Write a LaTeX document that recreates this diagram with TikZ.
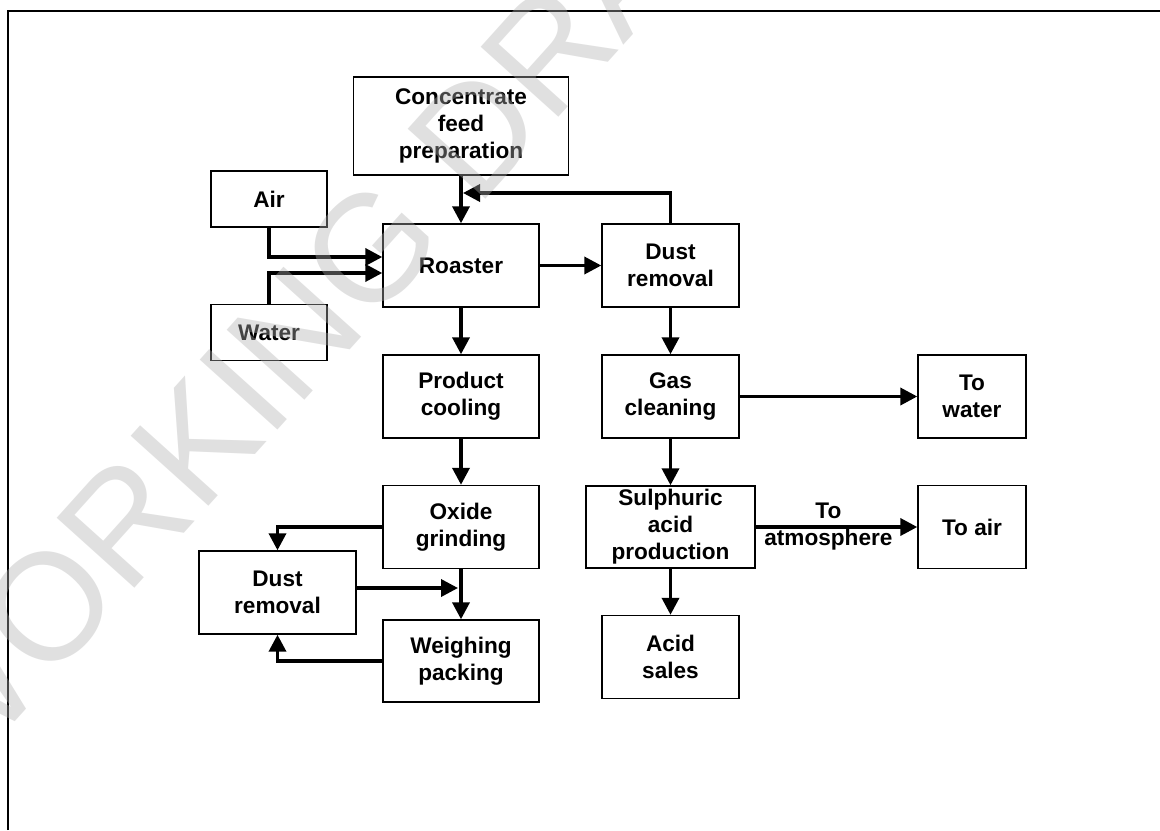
\documentclass[tikz,border=0pt]{standalone}
\usepackage{fontspec}
\setmainfont{Liberation Sans}
\usepackage{tikz}
\usetikzlibrary{arrows.meta, positioning, calc}
\definecolor{stamp}{gray}{0.69}

\begin{document}
\begin{tikzpicture}[x=0.5pt, y=-0.5pt,
  box/.style={draw, line width=0.7pt, align=center, inner sep=0pt,
    font=\fontsize{11.3}{13.5}\selectfont\bfseries,
    minimum width=78pt, minimum height=41.5pt},
  flow/.style={line width=1.8pt, -{Triangle[length=8.5pt, width=8.5pt]}}]
  \useasboundingbox (0,0) rectangle (1160,830);

  % Frame
  \draw[line width=1.2pt] (8,830) -- (8,11) -- (1160,11);

  % Roasting line
  \node[box, minimum width=107.5pt, minimum height=49pt] (conc) at (461,126)
    {Concentrate\\feed\\preparation};
  \node[box, minimum width=58pt, minimum height=28pt] (air) at (269,199) {Air};
  \node[box, minimum width=58pt, minimum height=28pt] (water) at (269,332.5) {Water};
  \node[box] (roaster) at (461,265.5) {Roaster};
  \node[box] (cool) at (461,396.5) {Product\\cooling};
  \node[box] (oxide) at (461,527) {Oxide\\grinding};
  \node[box, minimum width=78.5pt] (dust2) at (277.5,592.5) {Dust\\removal};
  \node[box, minimum height=41pt] (weigh) at (461,661) {Weighing\\packing};

  % Gas line
  \node[box, minimum width=68.5pt] (dust1) at (670.5,265.5) {Dust\\removal};
  \node[box, minimum width=68.5pt] (gas) at (670.5,396.5) {Gas\\cleaning};
  \node[box, minimum width=84.5pt, minimum height=41pt] (sulph) at (670.5,527)
    {Sulphuric\\acid\\production};
  \node[box, minimum width=68.5pt] (acid) at (670.5,657) {Acid\\sales};
  \node[box, minimum width=54pt] (towater) at (972,396.5) {To\\water};
  \node[box, minimum width=54pt] (toair) at (972,527) {To air};

  % Connectors
  \coordinate (fb) at (463,193);
  \draw[flow] (conc.south) -- (roaster.north);
  \draw[flow] (dust1.north) |- (fb);
  \draw[flow] (air.south) |- ($(roaster.west)+(0,-8.5)$);
  \draw[flow] (water.north) |- ($(roaster.west)+(0,7.5)$);
  \draw[flow] (roaster.east) -- (dust1.west);
  \draw[flow] (roaster.south) -- (cool.north);
  \draw[flow] (cool.south) -- (oxide.north);
  \draw[flow] (oxide.south) -- (weigh.north);
  \draw[flow] (oxide.west) -| (dust2.north);
  \draw[flow, shorten >=1.5pt] ($(dust2.east)+(0,-4.5)$)
    -- ($(dust2.east -| oxide.south)+(0,-4.5)$);
  \draw[flow] (weigh.west) -| (dust2.south);
  \draw[flow] (dust1.south) -- (gas.north);
  \draw[flow] (gas.south) -- (sulph.north);
  \draw[flow] (sulph.south) -- (acid.north);
  \draw[flow] (gas.east) -- (towater.west);
  \draw[flow] (sulph.east) -- (toair.west)
    node[pos=0.45, align=center, font=\fontsize{11.3}{13.5}\selectfont\bfseries]
    {To\\atmosphere};

  % Watermark
  \node[text=stamp, text opacity=0.39, rotate=48,
    font=\fontsize{76}{76}\selectfont] (stampnote) at (345,277) {WORKING DRAFT};
\end{tikzpicture}
\end{document}
